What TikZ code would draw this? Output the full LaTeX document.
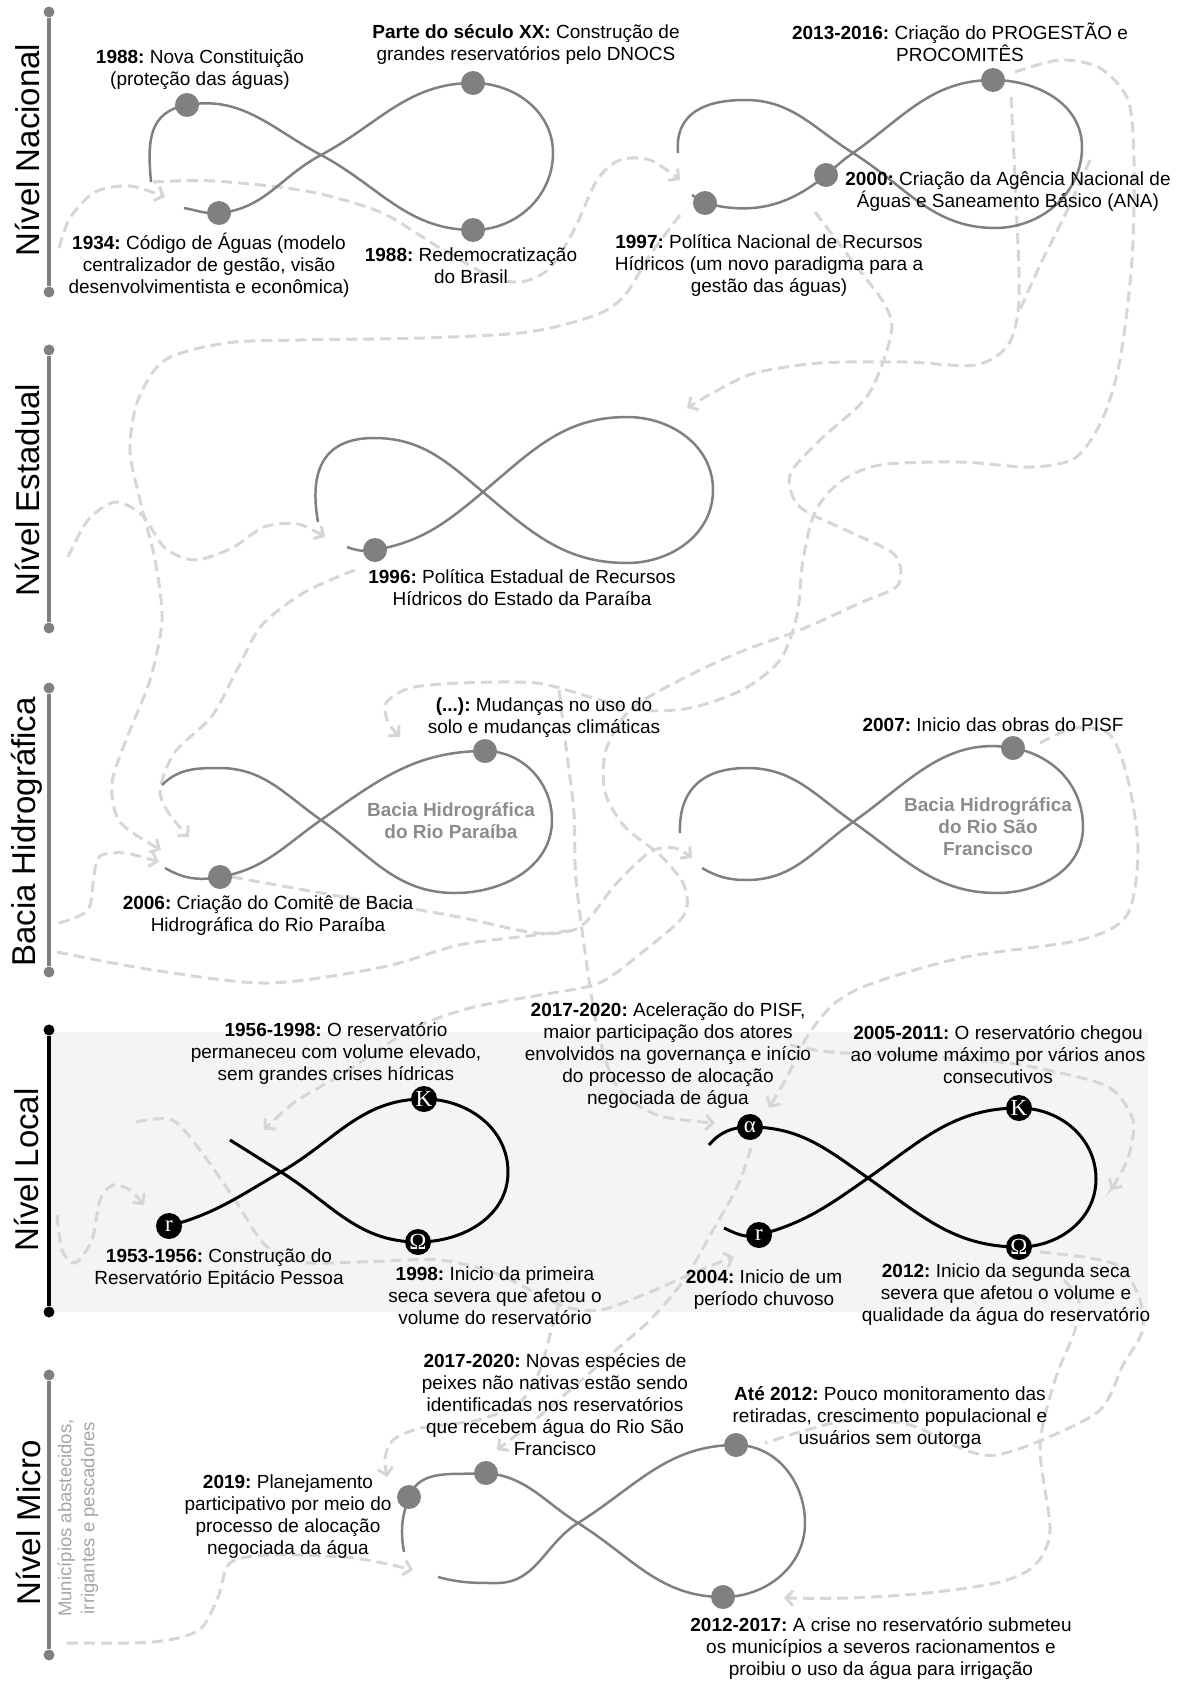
\documentclass[tikz,border=0pt]{standalone}
\usepackage{fontspec}
\setmainfont{Liberation Sans}
\newfontfamily\cyclefont{Liberation Serif}
\usetikzlibrary{arrows.meta, positioning, calc}
\definecolor{evgray}{RGB}{128,128,128}
\definecolor{flowgray}{RGB}{214,214,214}
\definecolor{boxgray}{RGB}{244,244,244}
\definecolor{notegray}{RGB}{140,140,140}
\definecolor{subgray}{RGB}{165,165,165}
\frenchspacing
\tikzset{
    eight/.style={line width=2.5pt, draw=evgray},
    eightloc/.style={line width=3pt, draw=black},
    evdot/.style={circle, fill=evgray, inner sep=0pt, minimum size=24pt},
    cycdot/.style={circle, fill=black, inner sep=0pt, minimum size=26pt,
                   text=white, font=\cyclefont\fontsize{23}{23}\selectfont},
    flow/.style={line width=3pt, draw=flowgray, dash pattern=on 11pt off 6pt},
    flowarr/.style={flow, -{Straight Barb[length=7pt,width=15pt]}},
    lbl/.style={align=center, font=\fontsize{19}{22}\selectfont, inner sep=0pt},
    basin/.style={align=center, text=notegray, inner sep=0pt,
                  font=\fontsize{19}{22}\selectfont\bfseries},
    lvl/.style={rotate=90, font=\fontsize{33}{33}\selectfont, inner sep=0pt},
    lvlbar/.style={line width=4.5pt, draw=evgray},
    bardot/.style={circle, fill=evgray, inner sep=0pt, minimum size=11pt},
}

\begin{document}
\begin{tikzpicture}[x=1pt, y=1pt]
    \useasboundingbox (0,0) rectangle (1184,-1681);

    % Local level band
    \fill[boxgray] (49,-1032) rectangle (1148,-1312);

    % Key points of the eights
    \coordinate (aS) at (151,-182);   \coordinate (a88c) at (187,-105);
    \coordinate (aX) at (321,-155);   \coordinate (a88r) at (473,-230);
    \coordinate (aR) at (553,-153);   \coordinate (aXX) at (473,-83);
    \coordinate (a34) at (219,-213);  \coordinate (aE) at (184,-208);
    \coordinate (bS) at (678,-153);   \coordinate (bTL) at (745,-100);
    \coordinate (bX) at (853,-153);   \coordinate (bBot) at (995,-228);
    \coordinate (bR) at (1082,-147);  \coordinate (b13) at (993,-80);
    \coordinate (b00) at (826,-175);  \coordinate (b97) at (705,-203);
    \coordinate (bE) at (692,-195);
    \coordinate (cS) at (318,-522);   \coordinate (cTL) at (374,-438);
    \coordinate (cX) at (483,-492);   \coordinate (cBR) at (627,-563);
    \coordinate (cR) at (713,-490);   \coordinate (cTR) at (627,-417);
    \coordinate (c96) at (375,-550);  \coordinate (cE) at (347,-547);
    \coordinate (dS) at (162,-785);   \coordinate (dTL) at (219,-768);
    \coordinate (dX) at (321,-820);   \coordinate (dBR) at (455,-893);
    \coordinate (dR) at (552,-820);   \coordinate (dTop) at (485,-751);
    \coordinate (d06) at (220,-877);  \coordinate (dE) at (165,-868);
    \coordinate (eS) at (680,-833);   \coordinate (eTL) at (747,-768);
    \coordinate (eX) at (853,-822);   \coordinate (eBR) at (997,-893);
    \coordinate (eR) at (1083,-827);  \coordinate (e07) at (1013,-748);
    \coordinate (eBL) at (747,-880);  \coordinate (eE) at (702,-868);
    \coordinate (fS) at (230,-1140);  \coordinate (fX) at (281,-1172);
    \coordinate (fO) at (418,-1242);  \coordinate (fR) at (508,-1172);
    \coordinate (fK) at (424,-1099);  \coordinate (fr) at (169,-1226);
    \coordinate (gS) at (709,-1145);  \coordinate (gA) at (750,-1127);
    \coordinate (gX) at (868,-1178);  \coordinate (gO) at (1019,-1247);
    \coordinate (gR) at (1096,-1179); \coordinate (gK) at (1019,-1108);
    \coordinate (gr) at (759,-1235);  \coordinate (gE) at (724,-1228);
    \coordinate (hS) at (404,-1552);  \coordinate (h19) at (409,-1497);
    \coordinate (h17) at (486,-1473); \coordinate (hX) at (578,-1523);
    \coordinate (h1217) at (723,-1597); \coordinate (hR) at (805,-1523);
    \coordinate (hAte) at (736,-1445); \coordinate (hBL) at (497,-1583);
    \coordinate (hE) at (438,-1577);

    % Dashed flows
    \draw[flowarr] plot[smooth] coordinates {(59,-248) (70,-218) (95,-192) (130,-186) (165,-197)};
    \draw[flowarr] plot[smooth] coordinates {(153,-182) (214,-181) (306,-191) (380,-212) (440,-248) (490,-276) (521,-282) (550,-268) (575,-228) (597,-180) (620,-160) (650,-160) (680,-180)};
    \draw[flowarr] plot[smooth] coordinates {(680,-215) (650,-255) (625,-295) (596,-315) (528,-332) (423,-338) (300,-340) (226,-343) (165,-360) (138,-400) (130,-450) (140,-500) (155,-560) (162,-620) (150,-680) (128,-735) (112,-783) (120,-822) (161,-850)};
    \draw[flowarr] plot[smooth] coordinates {(68,-557) (88,-520) (115,-502) (142,-515) (165,-548) (195,-560) (232,-548) (264,-527) (298,-524) (325,-537)};
    \draw[flowarr] plot[smooth] coordinates {(355,-570) (305,-592) (262,-625) (238,-668) (212,-716) (175,-752) (160,-790) (170,-815) (189,-837)};
    \draw[flowarr] plot[smooth] coordinates {(59,-923) (88,-910) (94,-875) (100,-856) (125,-853) (159,-862)};
    \draw[flowarr] plot[smooth] coordinates {(1011,-97) (1016,-200) (1019,-300) (1008,-345) (975,-365) (906,-362) (820,-363) (755,-373) (718,-390) (687,-408)};
    \draw[flowarr] plot[smooth] coordinates {(1015,-72) (1060,-60) (1100,-68) (1128,-100) (1134,-160) (1132,-260) (1120,-360) (1102,-420) (1075,-458) (1030,-467) (960,-462) (880,-465) (840,-482) (815,-512) (803,-560) (797,-615) (780,-660) (742,-690) (690,-708) (640,-710) (590,-697) (536,-683) (460,-683) (410,-688) (386,-703) (388,-722) (400,-737)};
    \draw[flowarr] plot[smooth] coordinates {(559,-690) (566,-747) (574,-813) (576,-880) (589,-980) (600,-1040) (618,-1088) (657,-1115) (715,-1123)};
    \draw[flowarr] plot[smooth] coordinates {(1040,-743) (1075,-728) (1110,-735) (1128,-780) (1138,-850) (1127,-915) (1080,-940) (965,-957) (873,-983) (835,-1003) (808,-1035) (788,-1075) (769,-1108)};
    \draw[flowarr] plot[smooth] coordinates {(232,-877) (344,-897) (459,-917) (536,-933) (580,-927) (615,-885) (650,-852) (675,-848) (692,-858)};
    \draw[flowarr] plot[smooth] coordinates {(815,-212) (850,-258) (885,-305) (891,-335) (868,-395) (820,-440) (790,-475) (800,-507) (850,-532) (895,-555) (898,-585) (860,-603) (800,-630) (740,-652) (680,-680) (630,-710) (606,-750) (605,-792) (625,-827) (660,-855) (684,-885) (684,-915) (645,-950) (599,-983) (540,-995) (470,-1008) (410,-1030) (344,-1073) (295,-1102) (264,-1130)};
    \draw[flowarr] plot[smooth] coordinates {(57,-1215) (62,-1250) (75,-1263) (92,-1240) (100,-1200) (113,-1185) (130,-1190) (144,-1205)};
    \draw[flow] plot[smooth] coordinates {(57,-952) (153,-970) (268,-983) (383,-967) (459,-945) (536,-935) (575,-930)};
    \draw[flowarr] plot[smooth] coordinates {(136,-1122) (172,-1120) (200,-1150) (235,-1200) (265,-1245) (300,-1262) (360,-1262) (440,-1260) (500,-1275) (560,-1305) (600,-1310) (650,-1292) (700,-1270) (734,-1257)};
    \draw[flowarr] plot[smooth] coordinates {(751,-1148) (738,-1185) (712,-1232) (684,-1280) (650,-1320) (610,-1355) (570,-1390) (535,-1420) (497,-1450)};
    \draw[flowarr] plot[smooth] coordinates {(560,-1300) (550,-1335) (540,-1370) (520,-1402) (478,-1420) (421,-1428) (393,-1440) (385,-1458) (387,-1477)};
    \draw[flow] plot[smooth] coordinates {(1040,-1252) (1090,-1258) (1122,-1268) (1140,-1300) (1142,-1332) (1123,-1365) (1100,-1410) (1042,-1440) (996,-1455) (965,-1450) (910,-1425) (850,-1420) (800,-1432) (765,-1443)};
    \draw[flowarr] plot[smooth] coordinates {(790,-1045) (830,-1052) (900,-1055) (1000,-1062) (1061,-1073) (1110,-1088) (1133,-1120) (1128,-1158) (1111,-1190)};
    \draw[flowarr] plot[smooth] coordinates {(1052,-1268) (1078,-1298) (1075,-1330) (1055,-1380) (1040,-1447) (1050,-1530) (1035,-1565) (1000,-1582) (927,-1593) (850,-1598) (784,-1598)};
    \draw[flowarr] plot[smooth] coordinates {(67,-1643) (153,-1642) (199,-1630) (218,-1597) (230,-1563) (268,-1555) (344,-1557) (383,-1563) (413,-1570)};
    \draw[flow] plot[smooth] coordinates {(1090,-160) (1065,-215) (1040,-265) (1020,-310)};

    % Eights
    \draw[eight] (aS) to[out=95,in=190,looseness=1.2] (a88c) to[out=10,in=152] (aX)
        to[out=-28,in=180] (a88r) to[out=0,in=-90] (aR) to[out=90,in=0] (aXX)
        to[out=180,in=28] (aX) to[out=208,in=5] (a34) to[out=185,in=-10] (aE);
    \draw[eight] (bS) to[out=95,in=180,looseness=1.2] (bTL) to[out=0,in=148] (bX)
        to[out=-32,in=180] (bBot) to[out=0,in=-90] (bR) to[out=90,in=0] (b13)
        to[out=180,in=35] (bX) to[out=215,in=40] (b00) to[out=220,in=-15] (b97)
        to[out=165,in=-25] (bE);
    \draw[eight] (cS) to[out=100,in=180,looseness=1.3] (cTL) to[out=0,in=140] (cX)
        to[out=-40,in=180] (cBR) to[out=0,in=-90] (cR) to[out=90,in=0] (cTR)
        to[out=180,in=40] (cX) to[out=220,in=10] (c96) to[out=190,in=-20] (cE);
    \draw[eight] (dS) to[out=45,in=180] (dTL) to[out=0,in=145] (dX)
        to[out=-35,in=180] (dBR) to[out=0,in=-90] (dR) to[out=90,in=0] (dTop)
        to[out=180,in=35] (dX) to[out=215,in=10] (d06) to[out=190,in=-30] (dE);
    \draw[eight] (eS) to[out=92,in=180,looseness=1.2] (eTL) to[out=0,in=145] (eX)
        to[out=-35,in=180] (eBR) to[out=0,in=-90] (eR) to[out=90,in=-10] (e07)
        to[out=170,in=35] (eX) to[out=215,in=0] (eBL) to[out=180,in=-30] (eE);
    \draw[eightloc] (fS) to[out=-32,in=148] (fX) to[out=-32,in=180] (fO)
        to[out=0,in=-90] (fR) to[out=90,in=0] (fK) to[out=180,in=30] (fX)
        to[out=210,in=15] (fr);
    \draw[eightloc] (gS) to[out=50,in=180] (gA) to[out=0,in=145] (gX)
        to[out=-35,in=180] (gO) to[out=0,in=-90] (gR) to[out=90,in=0] (gK)
        to[out=180,in=35] (gX) to[out=215,in=15] (gr) to[out=195,in=-25] (gE);
    \draw[eight] (hS) to[out=100,in=250] (h19) to[out=70,in=185] (h17)
        to[out=-5,in=148] (hX) to[out=-32,in=180] (h1217) to[out=0,in=-90] (hR)
        to[out=90,in=0] (hAte) to[out=180,in=32] (hX) to[out=212,in=0] (hBL)
        to[out=180,in=-15] (hE);

    % Level bars
    \foreach \nm/\yt/\yb in {nac/12/292, est/350/628, bac/688/972, mic/1375/1655} {
        \node[bardot] (\nm top) at (49,-\yt) {};
        \node[bardot] (\nm bot) at (49,-\yb) {};
        \draw[lvlbar] (\nm top) -- (\nm bot);
    }
    \node[bardot, fill=black] (loctop) at (49,-1030) {};
    \node[bardot, fill=black] (locbot) at (49,-1312) {};
    \draw[lvlbar, draw=black] (loctop) -- (locbot);

    % Level names
    \node[lvl] (lvlnac) at (28,-150) {Nível Nacional};
    \node[lvl] (lvlest) at (28,-490) {Nível Estadual};
    \node[lvl] (lvlbac) at (27,-832) {Bacia Hidrográfica};
    \node[lvl] (lvlloc) at (27,-1170) {Nível Local};
    \node[lvl] (lvlmic) at (29,-1523) {Nível Micro};
    \node[lvl, align=center, text=subgray, font=\fontsize{18.5}{23}\selectfont]
        (lvlmicsub) at (78,-1518) {Municípios abastecidos,\\irrigantes e pescadores};

    % Event dots
    \foreach \pt in {a88c, a88r, aXX, a34, b13, b00, b97, c96, dTop, d06, e07,
                     h19, h17, hAte, h1217}
        \node[evdot] (dot\pt) at (\pt) {};
    \node[cycdot] (cycfr) at (fr) {r};
    \node[cycdot] (cycfK) at (fK) {K};
    \node[cycdot] (cycfO) at (fO) {Ω};
    \node[cycdot] (cycgA) at (gA) {α};
    \node[cycdot] (cycgr) at (gr) {r};
    \node[cycdot] (cycgK) at (gK) {K};
    \node[cycdot] (cycgO) at (gO) {Ω};

    % Nacional
    \node[lbl] (t1988a) at (200,-70) {\textbf{1988:} Nova Constituição\\(proteção das águas)};
    \node[lbl] (tparte) at (526,-45) {\textbf{Parte do século XX:} Construção de\\grandes reservatórios pelo DNOCS};
    \node[lbl] (t1934) at (209,-265) {\textbf{1934:} Código de Águas (modelo\\centralizador de gestão, visão\\desenvolvimentista e econômica)};
    \node[lbl] (t1988b) at (471,-266) {\textbf{1988:} Redemocratização\\do Brasil};
    \node[lbl] (t2013) at (960,-42) {\textbf{2013-2016:} Criação do PROGESTÃO e\\PROCOMITÊS};
    \node[lbl] (t2000) at (1008,-192) {\textbf{2000:} Criação da Agência Nacional de\\Águas e Saneamento Básico (ANA)};
    \node[lbl] (t1997) at (769,-265) {\textbf{1997:} Política Nacional de Recursos\\Hídricos (um novo paradigma para a\\gestão das águas)};

    % Estadual
    \node[lbl] (t1996) at (522,-588) {\textbf{1996:} Política Estadual de Recursos\\Hídricos do Estado da Paraíba};

    % Bacia
    \node[lbl] (tmud) at (544,-718) {\textbf{(...):} Mudanças no uso do\\solo e mudanças climáticas};
    \node[basin] (tparaiba) at (451,-821) {Bacia Hidrográfica\\do Rio Paraíba};
    \node[lbl] (t2006) at (268,-916) {\textbf{2006:} Criação do Comitê de Bacia\\Hidrográfica do Rio Paraíba};
    \node[lbl] (t2007) at (993,-725) {\textbf{2007:} Inicio das obras do PISF};
    \node[basin] (tsaofr) at (988,-827) {Bacia Hidrográfica\\do Rio São\\Francisco};

    % Local
    \node[lbl] (t1956) at (336,-1053) {\textbf{1956-1998:} O reservatório\\permaneceu com volume elevado,\\sem grandes crises hídricas};
    \node[lbl] (t1953) at (219,-1269) {\textbf{1953-1956:} Construção do\\Reservatório Epitácio Pessoa};
    \node[lbl] (t1998) at (495,-1296) {\textbf{1998:} Inicio da primeira\\seca severa que afetou o\\volume do reservatório};
    \node[lbl] (t2017a) at (668,-1056) {\textbf{2017-2020:} Aceleração do PISF,\\maior participação dos atores\\envolvidos na governança e início\\do processo de alocação\\negociada de água};
    \node[lbl] (t2005) at (998,-1055) {\textbf{2005-2011:} O reservatório chegou\\ao volume máximo por vários anos\\consecutivos};
    \node[lbl] (t2004) at (764,-1290) {\textbf{2004:} Inicio de um\\período chuvoso};
    \node[lbl] (t2012) at (1006,-1295) {\textbf{2012:} Inicio da segunda seca\\severa que afetou o volume e\\qualidade da água do reservatório};

    % Micro
    \node[lbl] (t2017b) at (555,-1405) {\textbf{2017-2020:} Novas espécies de\\peixes não nativas estão sendo\\identificadas nos reservatórios\\que recebem água do Rio São\\Francisco};
    \node[lbl] (tate) at (890,-1417) {\textbf{Até 2012:} Pouco monitoramento das\\retiradas, crescimento populacional e\\usuários sem outorga};
    \node[lbl] (t2019) at (288,-1517) {\textbf{2019:} Planejamento\\participativo por meio do\\processo de alocação\\negociada da água};
    \node[lbl] (t2012b) at (881,-1648) {\textbf{2012-2017:} A crise no reservatório submeteu\\os municípios a severos racionamentos e\\proibiu o uso da água para irrigação};
\end{tikzpicture}
\end{document}
